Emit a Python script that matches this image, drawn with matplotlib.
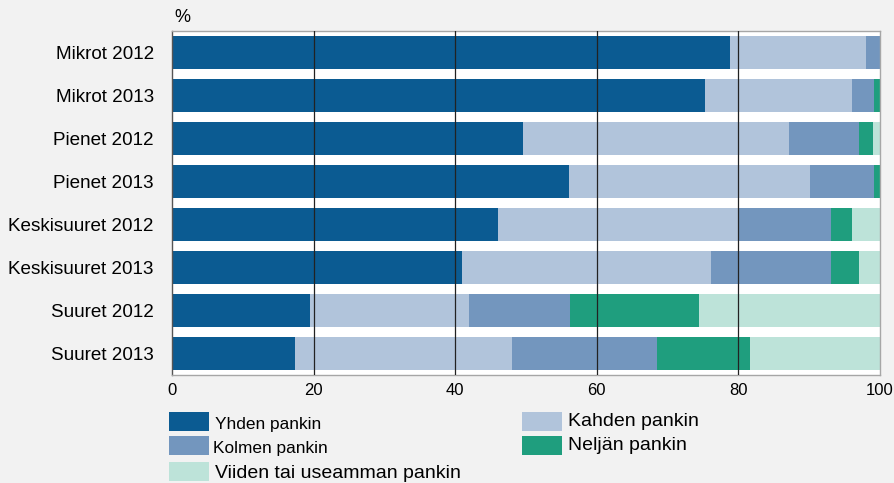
import matplotlib
matplotlib.use("Agg")
import matplotlib.pyplot as plt
from matplotlib.patches import Rectangle
import numpy as np

plt.rcParams['font.family'] = ['Liberation Sans', 'DejaVu Sans']

categories = ["Mikrot 2012", "Mikrot 2013", "Pienet 2012", "Pienet 2013",
              "Keskisuuret 2012", "Keskisuuret 2013", "Suuret 2012", "Suuret 2013"]
series_names = ["Yhden pankin", "Kahden pankin", "Kolmen pankin",
                "Neljän pankin", "Viiden tai useamman pankin"]
yhden = [78.8, 75.3, 49.6, 56.1, 46.0, 41.0, 19.5, 17.4]
kahden = [19.2, 20.8, 37.6, 34.0, 34.1, 35.1, 22.4, 30.6]
kolmen = [2.0, 3.0, 9.9, 9.0, 13.0, 17.0, 14.3, 20.5]
neljan = [0.0, 0.9, 1.9, 0.9, 2.9, 3.9, 18.3, 13.1]
viiden = [0.0, 0.0, 1.0, 0.0, 4.0, 3.0, 25.5, 18.4]
x_ticks = [0, 20, 40, 60, 80, 100]

colors = ["#0b5b92", "#b1c4db", "#7396be", "#1f9e7e", "#bde3d9"]
series = [yhden, kahden, kolmen, neljan, viiden]

W, H = 894, 483
fig = plt.figure(figsize=(W / 100, H / 100), dpi=100)
fig.patch.set_facecolor("#f2f2f2")
ax = fig.add_axes([172 / W, 1 - 375 / H, 708 / W, 344 / H])
ax.set_facecolor("white")

y = np.arange(len(categories))
left = np.zeros(len(categories))
for vals, c in zip(series, colors):
    ax.barh(y, vals, left=left, height=0.77, color=c, zorder=2)
    left += np.array(vals)

for t in x_ticks[1:-1]:
    ax.axvline(t, color="#222222", lw=0.9, zorder=3)

ax.set_xlim(0, 100)
ax.set_ylim(len(categories) - 0.5, -0.5)
ax.set_yticks(y)
ax.set_yticklabels(categories, fontsize=13.6)
ax.set_xticks(x_ticks)
ax.set_xticklabels([str(t) for t in x_ticks], fontsize=12)
ax.tick_params(axis="y", length=0, pad=13)
ax.tick_params(axis="x", length=0, pad=6)
for s in ["top", "right", "bottom"]:
    ax.spines[s].set_color("#a6a6a6")
    ax.spines[s].set_linewidth(1.0)
ax.spines["left"].set_color("#555555")
ax.spines["left"].set_linewidth(1.0)

fig.text(174 / W, 1 - 17 / H, "%", fontsize=13, va="center", ha="left")

# legend (manual layout)
leg_pos = [
    (169, 412, 215, 425, 12.4),   # Yhden
    (522, 412, 568, 422, 14),     # Kahden
    (169, 436, 213, 449, 12.4),   # Kolmen
    (522, 436, 568, 445, 14),     # Neljän
    (169, 462, 215, 473, 14),     # Viiden
]
for name, c, (px, py, tx, ty, fs) in zip(series_names, colors, leg_pos):
    fig.patches.append(Rectangle((px / W, 1 - (py + 19) / H), 40 / W, 19 / H,
                                 transform=fig.transFigure, facecolor=c,
                                 edgecolor="none"))
    fig.text(tx / W, 1 - ty / H, name, fontsize=fs, va="center", ha="left")

fig.savefig("out.png", dpi=100, facecolor=fig.get_facecolor())
